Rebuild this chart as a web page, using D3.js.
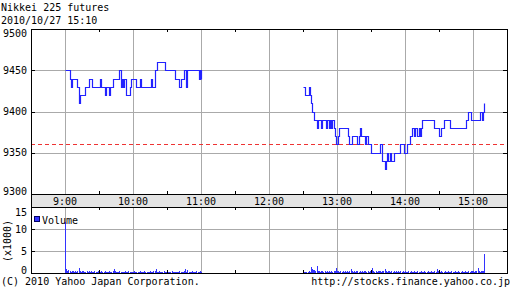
<!DOCTYPE html>
<html>
<head>
<meta charset="utf-8">
<script src="https://cdn.jsdelivr.net/npm/d3@7"></script>
<style>
  body { margin: 0; background: #fff; }
  svg { display: block; }
  text { font-family: "DejaVu Sans Mono", monospace; font-size: 10px; fill: #000; }
</style>
</head>
<body>
<script>
// Data
const title = "Nikkei 225 futures";
const stamp = "2010/10/27 15:10";
const hourTicks = ["9:00", "10:00", "11:00", "12:00", "13:00", "14:00", "15:00"];
const halfTicks = ["9:30", "10:30", "11:30", "12:30", "13:30", "14:30"];
const priceTicks = [9300, 9350, 9400, 9450, 9500];
const volTicks = [0, 5, 10, 15];
const prevClose = 9360;

// step points [time, price]
const priceAM = [
    ["9:00", 9450], ["9:04", 9440], ["9:05", 9430], ["9:06", 9440], ["9:11", 9430],
    ["9:12", 9410], ["9:13", 9420], ["9:18", 9430], ["9:21", 9440], ["9:24", 9430],
    ["9:31", 9440], ["9:32", 9430], ["9:35", 9420], ["9:36", 9430], ["9:39", 9420],
    ["9:40", 9430], ["9:42", 9440], ["9:48", 9450], ["9:49", 9430], ["9:50", 9440],
    ["9:51", 9430], ["9:52", 9440], ["9:54", 9420], ["9:57", 9430], ["9:58", 9440],
    ["10:03", 9430], ["10:06", 9440], ["10:07", 9430], ["10:16", 9440], ["10:17", 9430],
    ["10:19", 9450], ["10:21", 9460], ["10:28", 9450], ["10:37", 9440], ["10:41", 9430],
    ["10:42", 9440], ["10:45", 9450], ["10:47", 9430], ["10:48", 9450], ["10:58", 9440],
    ["10:59", 9450], ["11:00", 9440]
];
const pricePM = [
    ["12:30", 9430], ["12:32", 9420], ["12:35", 9430], ["12:36", 9420], ["12:37", 9410],
    ["12:38", 9400], ["12:40", 9390], ["12:42", 9380], ["12:43", 9390], ["12:46", 9380],
    ["12:47", 9390], ["12:50", 9380], ["12:51", 9390], ["12:53", 9380], ["12:54", 9390],
    ["12:55", 9380], ["12:56", 9390], ["12:57", 9380], ["12:58", 9370], ["12:59", 9360],
    ["13:01", 9370], ["13:02", 9380], ["13:10", 9370], ["13:11", 9360], ["13:13", 9370],
    ["13:18", 9360], ["13:19", 9370], ["13:20", 9380], ["13:21", 9370], ["13:25", 9360],
    ["13:26", 9370], ["13:27", 9360], ["13:30", 9350], ["13:38", 9360], ["13:40", 9340],
    ["13:42", 9330], ["13:43", 9340], ["13:44", 9350], ["13:45", 9340], ["13:47", 9350],
    ["13:48", 9340], ["13:50", 9350], ["13:56", 9360], ["13:59", 9350], ["14:02", 9360],
    ["14:04", 9370], ["14:06", 9380], ["14:08", 9370], ["14:09", 9380], ["14:11", 9370],
    ["14:12", 9380], ["14:13", 9370], ["14:14", 9380], ["14:15", 9390], ["14:26", 9380],
    ["14:30", 9370], ["14:32", 9380], ["14:34", 9390], ["14:40", 9380], ["14:54", 9390],
    ["14:56", 9400], ["14:58", 9390], ["15:06", 9400], ["15:08", 9390], ["15:09", 9400],
    ["15:10", 9410]
];

// volume per minute (x1000), 9:00-11:00 and 12:30-15:10
const volAMStart = "9:00";
const volAM = [
    11.5, 0.9, 0.5, 0.7, 0.4, 0.3, 0.5, 0.4, 0.3, 0.4,
    0.3, 0.5, 1.1, 0.4, 0.3, 0.4, 0.5, 0.3, 0.2, 0.4,
    0.3, 0.4, 0.3, 0.5, 0.3, 0.2, 0.4, 0.3, 0.3, 0.4,
    0.2, 0.3, 0.4, 0.2, 0.3, 0.5, 0.3, 0.2, 0.3, 0.4,
    0.3, 0.2, 0.4, 0.8, 0.4, 0.3, 0.2, 0.3, 0.4, 0.3,
    0.2, 0.3, 0.3, 0.4, 0.2, 0.3, 0.5, 0.3, 0.2, 0.3,
    0.3, 0.4, 0.2, 0.3, 0.3, 0.2, 0.4, 0.3, 0.2, 0.3,
    0.4, 0.3, 0.2, 0.3, 0.3, 0.4, 0.2, 0.3, 0.5, 0.4,
    0.8, 0.3, 0.2, 0.4, 0.3, 0.3, 0.2, 0.4, 0.3, 0.3,
    0.6, 0.3, 0.2, 0.3, 0.4, 0.2, 0.3, 0.3, 0.2, 0.3,
    0.3, 0.4, 0.2, 0.3, 0.2, 0.4, 0.8, 0.3, 0.6, 0.3,
    0.2, 0.3, 0.4, 0.3, 0.2, 0.3, 0.4, 0.3, 0.2, 0.5,
    0.3
];
const volPMStart = "12:30";
const volPM = [
    0.7, 0.2, 0.3, 0.2, 0.3, 0.4, 0.3, 1.3, 1.0, 0.6,
    0.7, 0.4, 1.6, 0.5, 0.4, 0.3, 0.5, 0.4, 0.3, 0.4,
    0.3, 0.4, 0.3, 0.5, 0.3, 0.4, 0.3, 0.4, 0.5, 1.2,
    0.5, 0.4, 0.3, 0.4, 0.3, 0.4, 0.3, 0.5, 0.3, 0.4,
    0.3, 0.4, 0.9, 0.4, 0.3, 0.4, 0.3, 0.4, 0.5, 0.3,
    0.4, 0.3, 0.4, 0.3, 0.5, 0.4, 0.3, 0.4, 0.3, 0.4,
    0.5, 1.2, 0.4, 0.3, 0.4, 0.3, 0.4, 0.5, 0.4, 0.3,
    0.4, 0.5, 0.9, 0.4, 0.3, 0.4, 0.5, 0.3, 0.4, 0.3,
    0.4, 0.3, 0.4, 0.3, 0.4, 0.3, 0.5, 0.3, 0.4, 0.3,
    0.4, 0.3, 0.3, 0.4, 0.3, 0.4, 0.3, 0.3, 0.4, 0.3,
    0.3, 0.4, 0.3, 0.3, 0.4, 0.3, 0.3, 0.4, 0.3, 0.3,
    0.4, 0.3, 0.3, 0.4, 0.3, 0.3, 0.4, 0.3, 0.9, 0.4,
    0.3, 0.3, 0.4, 0.3, 0.3, 0.4, 0.3, 0.3, 0.4, 0.3,
    0.3, 0.4, 0.3, 0.3, 0.4, 0.3, 0.3, 0.4, 0.3, 0.3,
    0.4, 0.3, 0.3, 0.4, 0.3, 0.3, 0.4, 0.3, 0.4, 0.5,
    0.4, 0.3, 0.5, 0.4, 1.2, 0.4, 0.3, 0.4, 0.5, 0.4,
    4.3
];

const toMin = (s) => {
    const [h, m] = s.split(":").map(Number);
    return h * 60 + m;
};
const px = (v) => Math.round(v) + 0.5;

// Layout
const W = 512, H = 301;
const L = 31, R = 507;
const pTop = 29, pBot = 194;   // price panel
const bBot = 207;              // time band
const vBot = 273;              // volume panel

const svg = d3.select("body").append("svg")
    .attr("width", W)
    .attr("height", H);

svg.append("rect").attr("width", W).attr("height", H).attr("fill", "#fff");

const x = d3.scaleLinear()
    .domain([toMin("8:30"), toMin("15:30")])
    .range([L, R]);
const y = d3.scaleLinear().domain([9300, 9500]).range([pBot, pTop]);
const yv = d3.scaleLinear().domain([0, 15]).range([vBot, bBot]);

// Titles
svg.append("text").attr("x", 1).attr("y", 11).text(title);
svg.append("text").attr("x", 1).attr("y", 24).text(stamp);

const grid = svg.append("g")
    .attr("stroke", "#aaaaaa")
    .attr("stroke-width", 1)
    .attr("shape-rendering", "crispEdges");

// price grid
grid.selectAll(".gx").data(hourTicks).join("line")
    .attr("x1", d => px(x(toMin(d)))).attr("x2", d => px(x(toMin(d))))
    .attr("y1", pTop).attr("y2", pBot);
grid.selectAll(".gy").data(priceTicks.slice(1, -1)).join("line")
    .attr("class", "gy")
    .attr("x1", L).attr("x2", R)
    .attr("y1", d => px(y(d))).attr("y2", d => px(y(d)));

// volume grid
grid.selectAll(".gvx").data(hourTicks).join("line")
    .attr("class", "gvx")
    .attr("x1", d => px(x(toMin(d)))).attr("x2", d => px(x(toMin(d))))
    .attr("y1", bBot).attr("y2", vBot);
grid.selectAll(".gvy").data(volTicks.slice(1, -1)).join("line")
    .attr("class", "gvy")
    .attr("x1", L).attr("x2", R)
    .attr("y1", d => px(yv(d))).attr("y2", d => px(yv(d)));

// previous close
svg.append("line")
    .attr("x1", L).attr("x2", R)
    .attr("y1", px(y(prevClose))).attr("y2", px(y(prevClose)))
    .attr("stroke", "#ee3333")
    .attr("stroke-dasharray", "4,3")
    .attr("shape-rendering", "crispEdges");

// Price line
const line = d3.line()
    .x(d => px(x(toMin(d[0]))))
    .y(d => px(y(d[1])))
    .curve(d3.curveStepAfter);

[priceAM, pricePM].forEach(session => {
    svg.append("path")
        .datum(session)
        .attr("d", line)
        .attr("fill", "none")
        .attr("stroke", "#2222ff")
        .attr("stroke-width", 1.2);
});

// Volume bars
const volBars = svg.append("g")
    .attr("stroke", "#3333ff")
    .attr("shape-rendering", "crispEdges");
[[volAMStart, volAM], [volPMStart, volPM]].forEach(([start, vals]) => {
    volBars.selectAll(null).data(vals).join("line")
        .attr("x1", (d, i) => px(x(toMin(start) + i)))
        .attr("x2", (d, i) => px(x(toMin(start) + i)))
        .attr("y1", yv(0))
        .attr("y2", d => yv(0) - Math.max(1, vBot - yv(d)));
});

// Time band
svg.append("rect")
    .attr("x", px(L)).attr("y", px(pBot))
    .attr("width", R - L).attr("height", bBot - pBot)
    .attr("fill", "#e4e4e4")
    .attr("stroke", "#000")
    .attr("shape-rendering", "crispEdges");
svg.selectAll(".hl").data(hourTicks).join("text")
    .attr("class", "hl")
    .attr("x", d => x(toMin(d)))
    .attr("y", 204.5)
    .attr("text-anchor", "middle")
    .text(d => d);

// Panel borders
const frame = svg.append("g")
    .attr("fill", "none")
    .attr("stroke", "#000")
    .attr("shape-rendering", "crispEdges");
frame.append("rect")
    .attr("x", px(L)).attr("y", px(pTop))
    .attr("width", R - L).attr("height", pBot - pTop);
frame.append("rect")
    .attr("x", px(L)).attr("y", px(bBot))
    .attr("width", R - L).attr("height", vBot - bBot);

// Ticks (inward)
const ticks = frame.append("g");
halfTicks.forEach(t => {
    const xx = px(x(toMin(t)));
    [[pTop, pTop + 3], [pBot - 3, pBot], [bBot, bBot + 3], [vBot - 3, vBot]].forEach(([a, b]) => {
        ticks.append("line").attr("x1", xx).attr("x2", xx).attr("y1", a).attr("y2", b);
    });
});
priceTicks.slice(1, -1).forEach(v => {
    const yy = px(y(v));
    ticks.append("line").attr("x1", L).attr("x2", L + 4).attr("y1", yy).attr("y2", yy);
    ticks.append("line").attr("x1", R - 4).attr("x2", R).attr("y1", yy).attr("y2", yy);
});
volTicks.slice(1, -1).forEach(v => {
    const yy = px(yv(v));
    ticks.append("line").attr("x1", L).attr("x2", L + 4).attr("y1", yy).attr("y2", yy);
    ticks.append("line").attr("x1", R - 4).attr("x2", R).attr("y1", yy).attr("y2", yy);
});

// Y labels, clamped inside the panel
svg.selectAll(".pl").data(priceTicks).join("text")
    .attr("class", "pl")
    .attr("x", 27)
    .attr("y", d => Math.min(Math.max(y(d), pTop + 4), pBot - 3) + 3.5)
    .attr("text-anchor", "end")
    .text(d => d);
svg.selectAll(".vl").data(volTicks).join("text")
    .attr("class", "vl")
    .attr("x", 27)
    .attr("y", d => Math.min(Math.max(yv(d), bBot + 5), vBot - 3) + 3.5)
    .attr("text-anchor", "end")
    .text(d => d);

svg.append("text")
    .attr("transform", "translate(11,241) rotate(-90)")
    .attr("text-anchor", "middle")
    .text("(x1000)");

// Legend
svg.append("rect")
    .attr("x", 34.5).attr("y", 216.5)
    .attr("width", 5).attr("height", 5)
    .attr("fill", "#3333ff")
    .attr("stroke", "#000066")
    .attr("shape-rendering", "crispEdges");
svg.append("text").attr("x", 42).attr("y", 224).text("Volume");

// Footer
svg.append("text").attr("x", 1).attr("y", 285).text("(C) 2010 Yahoo Japan Corporation.");
svg.append("text").attr("x", 510).attr("y", 285).attr("text-anchor", "end")
    .text("http://stocks.finance.yahoo.co.jp");
</script>
</body>
</html>
